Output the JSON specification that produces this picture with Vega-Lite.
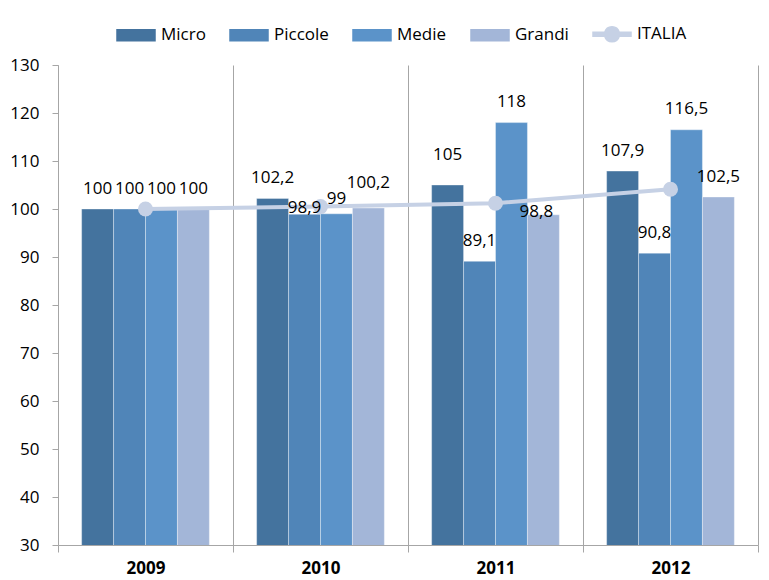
{
  "$schema": "https://vega.github.io/schema/vega-lite/v6.json",
  "width": 700,
  "height": 480,
  "autosize": {"type": "none"},
  "padding": {"left": 58, "top": 65, "right": 11, "bottom": 35},
  "background": "white",
  "config": {"view": {"stroke": null}, "font": "Open Sans"},
  "data": {
    "values": [
      {"year": "2009", "series": "Micro", "value": 100},
      {"year": "2009", "series": "Piccole", "value": 100},
      {"year": "2009", "series": "Medie", "value": 100},
      {"year": "2009", "series": "Grandi", "value": 100},
      {"year": "2009", "series": "ITALIA", "value": 100},
      {"year": "2010", "series": "Micro", "value": 102.2},
      {"year": "2010", "series": "Piccole", "value": 98.9},
      {"year": "2010", "series": "Medie", "value": 99},
      {"year": "2010", "series": "Grandi", "value": 100.2},
      {"year": "2010", "series": "ITALIA", "value": 100.5},
      {"year": "2011", "series": "Micro", "value": 105},
      {"year": "2011", "series": "Piccole", "value": 89.1},
      {"year": "2011", "series": "Medie", "value": 118},
      {"year": "2011", "series": "Grandi", "value": 98.8},
      {"year": "2011", "series": "ITALIA", "value": 101.2},
      {"year": "2012", "series": "Micro", "value": 107.9},
      {"year": "2012", "series": "Piccole", "value": 90.8},
      {"year": "2012", "series": "Medie", "value": 116.5},
      {"year": "2012", "series": "Grandi", "value": 102.5},
      {"year": "2012", "series": "ITALIA", "value": 104.1}
    ]
  },
  "transform": [
    {"calculate": "replace(toString(datum.value), '.', ',')", "as": "label"}
  ],
  "encoding": {
    "x": {
      "field": "year",
      "type": "nominal",
      "sort": null,
      "scale": {"paddingInner": 0, "paddingOuter": 0},
      "axis": {
        "title": null,
        "labelFontSize": 17,
        "labelFontWeight": "bold",
        "labelColor": "black",
        "labelFont": "Open Sans",
        "labelAngle": 0,
        "tickBand": "extent",
        "grid": true,
        "gridColor": "#a6a6a6",
        "gridWidth": 1,
        "domainColor": "#a6a6a6",
        "tickColor": "#a6a6a6",
        "tickSize": 7,
        "labelPadding": 8
      }
    },
    "y": {
      "field": "value",
      "type": "quantitative",
      "scale": {"domain": [30, 130], "nice": false, "zero": false},
      "axis": {
        "title": null,
        "values": [30, 40, 50, 60, 70, 80, 90, 100, 110, 120, 130],
        "labelFontSize": 17,
        "labelColor": "black",
        "labelFont": "Open Sans",
        "domainColor": "#a6a6a6",
        "tickColor": "#a6a6a6",
        "tickSize": 6,
        "labelPadding": 13,
        "grid": false
      }
    }
  },
  "layer": [
    {
      "transform": [{"filter": "datum.series != 'ITALIA'"}],
      "mark": {"type": "bar", "clip": true, "stroke": "white", "strokeWidth": 0.7, "strokeOpacity": 0.5},
      "encoding": {
        "xOffset": {"field": "series", "type": "nominal", "sort": ["Micro", "Piccole", "Medie", "Grandi"], "scale": {"paddingInner": 0, "paddingOuter": 0.74}},
        "color": {
          "field": "series",
          "type": "nominal",
          "scale": {
            "domain": ["Micro", "Piccole", "Medie", "Grandi", "ITALIA"],
            "range": ["#44739e", "#5085b8", "#5b93c9", "#a3b6d8", "#c6d1e5"]
          },
          "legend": {
            "orient": "none",
            "legendX": 58,
            "legendY": -51,
            "direction": "horizontal",
            "title": null,
            "symbolSize": 1444,
            "symbolType": {"expr": "datum.value === 'ITALIA' ? 'M-1,-0.105H-0.381A0.395,0.395 0 0,1 0.381,-0.105H1V0.105H0.381A0.395,0.395 0 0,1 -0.381,0.105H-1Z' : 'M-1,-0.29H1V0.29H-1Z'"},
            "labelFontSize": 17,
            "labelFont": "Open Sans",
            "labelColor": "black",
            "labelOffset": 5,
            "columnPadding": 21,
            "labelLimit": 300,
            "encode": {
              "symbols": {
                "update": {
                  "shape": {"signal": "datum.value === 'ITALIA' ? 'M-1,-0.105H-0.381A0.395,0.395 0 0,1 0.381,-0.105H1V0.105H0.381A0.395,0.395 0 0,1 -0.381,0.105H-1Z' : 'M-1,-0.29H1V0.29H-1Z'"},
                  "fill": {"signal": "scale('color', datum.value)"},
                  "stroke": {"value": "transparent"},
                  "strokeWidth": {"value": 0},
                  "opacity": {"value": 1},
                  "fillOpacity": {"value": 1}
                }
              }
            }
          }
        }
      }
    },
    {
      "transform": [{"filter": "datum.series == 'ITALIA'"}],
      "mark": {"type": "line", "strokeWidth": 4, "point": {"filled": true, "size": 225, "opacity": 1}},
      "encoding": {
        "color": {"field": "series", "type": "nominal"}
      }
    },
    {
      "transform": [{"filter": "datum.series != 'ITALIA' && !((datum.year == '2011' && datum.series == 'Micro') || (datum.year == '2010' && datum.series != 'Micro') || (datum.year == '2011' && datum.series == 'Grandi'))"}],
      "mark": {"type": "text", "fontSize": 17, "font": "Open Sans", "color": "black", "baseline": "middle", "dy": -20.5},
      "encoding": {
        "xOffset": {"field": "series", "type": "nominal", "sort": ["Micro", "Piccole", "Medie", "Grandi"]},
        "text": {"field": "label"}
      }
    },
    {
      "transform": [{"filter": "datum.year == '2011' && datum.series == 'Micro'"}],
      "mark": {"type": "text", "fontSize": 17, "font": "Open Sans", "color": "black", "baseline": "middle", "dy": -30},
      "encoding": {
        "xOffset": {"field": "series", "type": "nominal", "sort": ["Micro", "Piccole", "Medie", "Grandi"]},
        "text": {"field": "label"}
      }
    },
    {
      "transform": [{"filter": "datum.year == '2010' && datum.series == 'Grandi'"}],
      "mark": {"type": "text", "fontSize": 17, "font": "Open Sans", "color": "black", "baseline": "middle", "dy": -25},
      "encoding": {
        "xOffset": {"field": "series", "type": "nominal", "sort": ["Micro", "Piccole", "Medie", "Grandi"]},
        "text": {"field": "label"}
      }
    },
    {
      "transform": [{"filter": "datum.year == '2010' && datum.series == 'Medie'"}],
      "mark": {"type": "text", "fontSize": 17, "font": "Open Sans", "color": "black", "baseline": "middle", "dy": -14.5},
      "encoding": {
        "xOffset": {"field": "series", "type": "nominal", "sort": ["Micro", "Piccole", "Medie", "Grandi"]},
        "text": {"field": "label"}
      }
    },
    {
      "transform": [{"filter": "datum.year == '2010' && datum.series == 'Piccole'"}],
      "mark": {"type": "text", "fontSize": 17, "font": "Open Sans", "color": "black", "baseline": "middle", "dy": -6},
      "encoding": {
        "xOffset": {"field": "series", "type": "nominal", "sort": ["Micro", "Piccole", "Medie", "Grandi"]},
        "text": {"field": "label"}
      }
    },
    {
      "transform": [{"filter": "datum.year == '2011' && datum.series == 'Grandi'"}],
      "mark": {"type": "text", "fontSize": 17, "font": "Open Sans", "color": "black", "baseline": "middle", "dy": -3, "dx": -7},
      "encoding": {
        "xOffset": {"field": "series", "type": "nominal", "sort": ["Micro", "Piccole", "Medie", "Grandi"]},
        "text": {"field": "label"}
      }
    }
  ]
}
